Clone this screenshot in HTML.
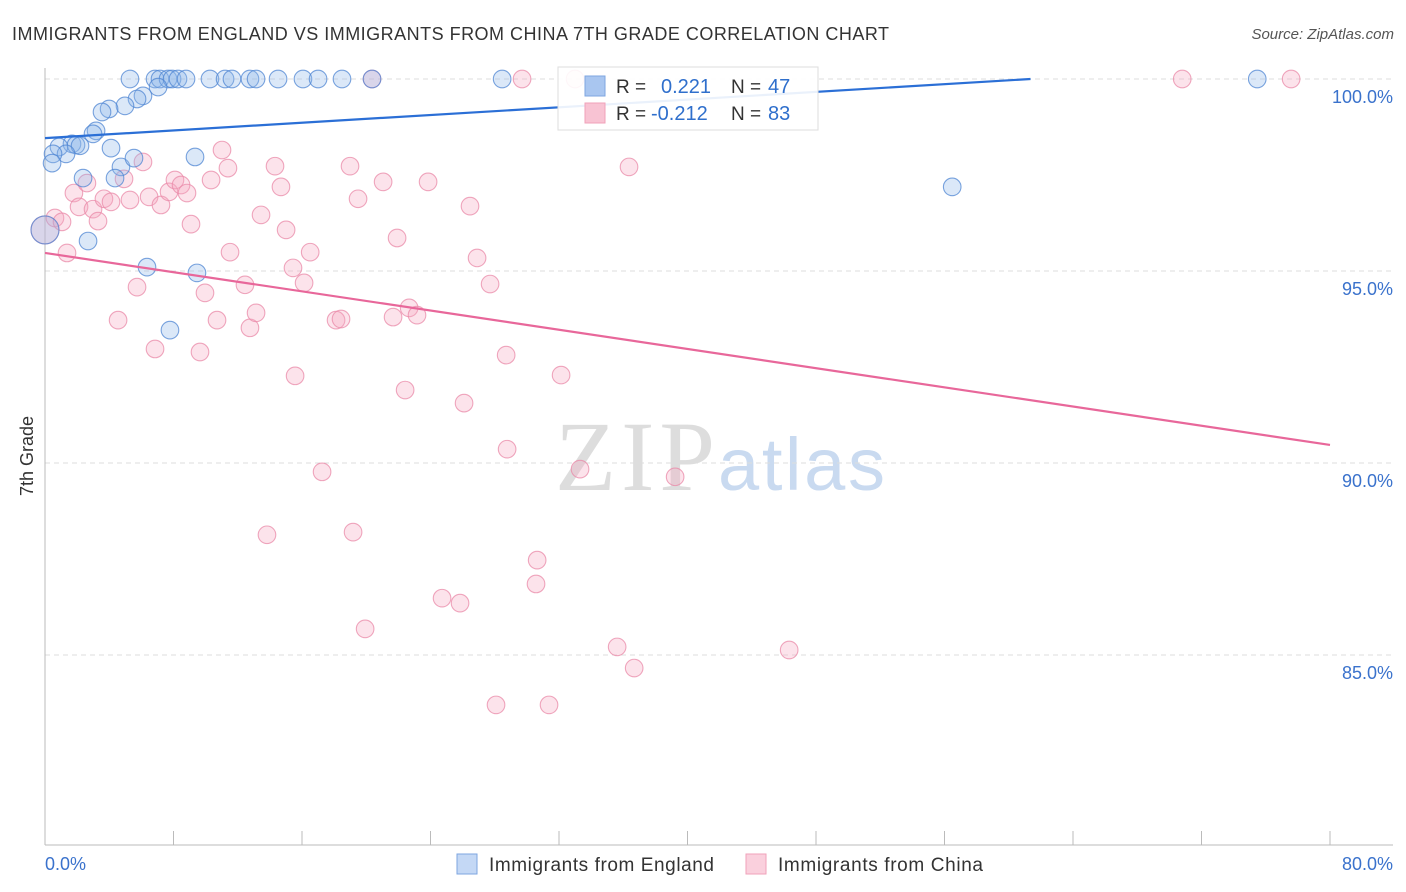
<!DOCTYPE html>
<html><head><meta charset="utf-8"><style>
body{margin:0;background:#fff;font-family:"Liberation Sans",sans-serif;}
svg{display:block}
</style></head><body>
<svg width="1406" height="892" xmlns="http://www.w3.org/2000/svg">
<text x="12" y="40" font-size="18" fill="#333" textLength="877">IMMIGRANTS FROM ENGLAND VS IMMIGRANTS FROM CHINA 7TH GRADE CORRELATION CHART</text>
<text x="1394" y="39" font-size="15" fill="#555" text-anchor="end" font-style="italic">Source: ZipAtlas.com</text>
<g>
<text x="555" y="490" font-size="100" fill="#ddd" font-family="Liberation Serif,serif" textLength="160">ZIP</text>
<text x="718" y="490" font-size="74" fill="#c9daf0" textLength="167">atlas</text>
</g>
<g id="grid"></g>
<g id="axes"></g>
<g id="marks"></g>
<text transform="translate(33,456) rotate(-90)" font-size="18" fill="#333" text-anchor="middle">7th Grade</text>
<g>
<rect x="558" y="67" width="260" height="63" fill="#fff" fill-opacity="0.9" stroke="#ddd"/>
<rect x="585" y="76" width="20" height="20" fill="#a9c6f0" stroke="#7ea6e0"/>
<rect x="585" y="103" width="20" height="20" fill="#f8c3d3" stroke="#f0a2ba"/>
<text x="616" y="93" font-size="19" fill="#333">R = </text><text x="661" y="93" font-size="20" fill="#2f6fcc">0.221</text>
<text x="731" y="93" font-size="19" fill="#333">N = </text><text x="768" y="93" font-size="20" fill="#2f6fcc">47</text>
<text x="616" y="120" font-size="19" fill="#333">R = </text><text x="651" y="120" font-size="20" fill="#2f6fcc">-0.212</text>
<text x="731" y="120" font-size="19" fill="#333">N = </text><text x="768" y="120" font-size="20" fill="#2f6fcc">83</text>
</g>
<g>
<rect x="457" y="854" width="20" height="20" fill="#c4d8f5" stroke="#7ea6e0"/>
<text x="489" y="871" font-size="19" fill="#333" textLength="225">Immigrants from England</text>
<rect x="746" y="854" width="20" height="20" fill="#fad0dd" stroke="#f0a2ba"/>
<text x="778" y="871" font-size="19" fill="#333" textLength="205">Immigrants from China</text>
</g>
</svg>
<script>
const englandX=[5.29,6.85,7.16,7.66,7.91,8.28,8.78,10.27,11.21,11.64,12.76,13.14,14.51,16.06,17.0,18.49,20.36,28.46,75.47,7.04,6.10,5.73,4.98,3.99,3.55,3.18,2.99,1.68,1.93,2.18,0.87,1.31,0.50,0.44,4.11,9.34,4.73,5.54,4.36,2.37,2.68,6.35,9.46,7.78,56.48,0];
const englandY=[100,100,100,100,100,100,100,100,100,100,100,100,100,100,100,100,100,100,100,99.79,99.56,99.48,99.30,99.22,99.14,98.65,98.57,98.31,98.28,98.26,98.23,98.05,98.05,97.81,98.20,97.97,97.71,97.94,97.42,97.42,95.78,95.10,94.95,93.46,97.19,96.07];
const chinaX=[20.36,29.70,33.00,70.80,77.58,0,0.62,1.06,1.37,1.80,2.12,2.61,2.99,3.30,3.67,4.11,4.55,4.92,5.29,5.73,6.10,6.48,6.85,7.22,7.72,8.09,8.47,8.84,9.09,9.65,9.96,10.34,10.71,11.02,11.39,11.52,12.45,12.76,13.14,13.45,13.82,14.32,14.69,15.01,15.44,15.57,16.13,16.51,17.25,18.12,18.43,18.99,19.18,19.49,19.93,21.05,21.67,21.92,22.42,22.67,23.16,23.85,24.72,25.84,26.09,26.46,26.90,27.71,28.08,28.71,28.77,30.64,30.57,31.38,32.13,33.31,35.62,36.36,36.68,39.23,46.33];
const chinaY=[100,100,100,100,100,96.07,96.38,96.28,95.47,97.03,96.67,97.29,96.61,96.30,96.88,96.80,93.72,97.40,96.85,94.58,97.84,96.93,92.97,96.72,97.06,97.37,97.24,97.03,96.22,92.89,94.43,97.37,93.72,98.15,97.68,95.49,94.64,93.52,93.91,96.46,88.13,97.73,97.19,96.07,95.08,92.27,94.69,95.49,89.77,93.72,93.75,97.73,88.20,96.88,85.68,97.32,93.80,95.86,91.90,94.04,93.85,97.32,86.48,86.35,91.56,96.69,95.34,94.66,83.70,92.81,90.36,87.47,86.85,83.70,92.29,89.84,85.21,97.71,84.66,89.64,85.13];
const englandTrend=[98.46,0.0251]; // intercept, slope
const chinaTrend=[95.47,-0.0625];
const yTicks=[100,95,90,85];
const yTickLabels=["100.0%","95.0%","90.0%","85.0%"];
const xTicks=[0,8,16,24,32,40,48,56,64,72,80];

const NS="http://www.w3.org/2000/svg";
const sx=v=>45+v*1285/80;
const sy=v=>79+(100-v)*38.4;
function mk(parent,tag,attrs){const e=document.createElementNS(NS,tag);for(const k in attrs)e.setAttribute(k,attrs[k]);parent.appendChild(e);return e;}
const grid=document.getElementById('grid'),axes=document.getElementById('axes'),marks=document.getElementById('marks');
yTicks.forEach((t,i)=>{
  const l=mk(grid,'line',{x1:45,x2:1393,y1:sy(t),y2:sy(t),stroke:'#ddd','stroke-dasharray':'5,4'});
  
  
  const tx=mk(axes,'text',{x:1393,y:sy(t)+24,'font-size':18,fill:'#3a72cc','text-anchor':'end'});
  tx.textContent=yTickLabels[i];
  
  
});
const ax=mk(axes,'line',{x1:45,x2:1393,y1:845,y2:845,stroke:'#bbb'});


const ay=mk(axes,'line',{x1:45,x2:45,y1:68,y2:845,stroke:'#bbb'});


xTicks.forEach(t=>{
  const l=mk(axes,'line',{x1:sx(t),x2:sx(t),y1:831,y2:845,stroke:'#bbb'});
  
  
});
const xl0=mk(axes,'text',{x:45,y:870,'font-size':18,fill:'#3a72cc'});xl0.textContent='0.0%';


const xl1=mk(axes,'text',{x:1393,y:870,'font-size':18,fill:'#3a72cc','text-anchor':'end'});xl1.textContent='80.0%';



function dots(X,Y,fill,stroke,name){
  X.forEach((x,i)=>{
    const big=(x===0);
    const c=mk(marks,'circle',{cx:sx(x),cy:sy(Y[i]),r:big?14:8.8,fill:fill,'fill-opacity':0.32,stroke:stroke,'stroke-width':1.1,'stroke-opacity':0.75});
    
    
  });
}
dots(chinaX,chinaY,'#f5a9c0','#e98aa8','china-point');
dots(englandX,englandY,'#90b6ea','#4f86d3','england-point');
function trend(p,color,name){
  let x2=80,y2=p[0]+p[1]*80;
  if(y2>100){x2=(100-p[0])/p[1];y2=100;}
  const l=mk(marks,'line',{x1:sx(0),y1:sy(p[0]),x2:sx(x2),y2:sy(y2),stroke:color,'stroke-width':2.2});
  
  
}
trend(englandTrend,'#2b6fd6','england-trend-line');
trend(chinaTrend,'#e8679a','china-trend-line');
</script>
</body></html>
